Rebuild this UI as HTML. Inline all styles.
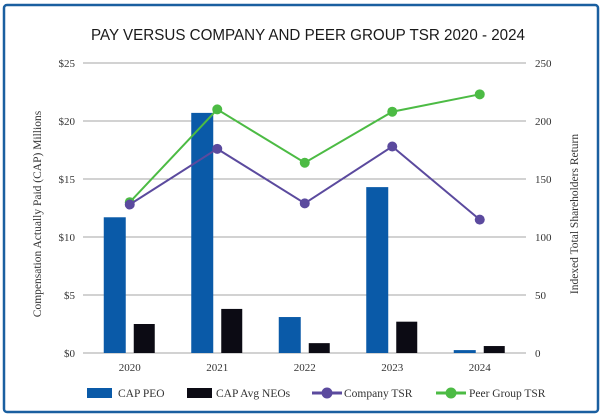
<!DOCTYPE html>
<html><head><meta charset="utf-8"><style>
body{margin:0;background:#fff;}
svg{display:block;font-family:"Liberation Serif",serif;}
</style></head><body>
<svg id="chart" width="603" height="417" viewBox="0 0 603 417">
<rect x="4" y="5" width="594" height="407" rx="3" fill="#fff" stroke="#1a5fa0" stroke-width="2.5"/>
<text x="308" y="40" text-anchor="middle" font-family="Liberation Sans, sans-serif" font-size="16" textLength="434" lengthAdjust="spacingAndGlyphs" fill="#1a1a1a">PAY VERSUS COMPANY AND PEER GROUP TSR 2020 - 2024</text>
<g id="grid"></g><g id="bars"></g><g id="lines"></g><g id="axes"></g>
<text transform="translate(41,214) rotate(-90)" text-anchor="middle" font-size="11.5" fill="#333">Compensation Actually Paid (CAP) Millions</text>
<text transform="translate(578,214) rotate(-90)" text-anchor="middle" font-size="11.5" fill="#333">Indexed Total Shareholders Return</text>
<g>
<rect x="87" y="388" width="25" height="10" fill="#0a5aa8"/>
<text x="118" y="397" font-size="11.5" fill="#333">CAP PEO</text>
<rect x="187" y="388" width="25" height="10" fill="#0c0b14"/>
<text x="216" y="397" font-size="11.5" fill="#333">CAP Avg NEOs</text>
<line x1="312" y1="393" x2="342" y2="393" stroke="#5b4a9e" stroke-width="3"/>
<circle cx="327" cy="393" r="5.5" fill="#5b4a9e"/>
<text x="344" y="397" font-size="11.5" fill="#333">Company TSR</text>
<line x1="436" y1="393" x2="466" y2="393" stroke="#4cbb44" stroke-width="3"/>
<circle cx="451" cy="393" r="5.5" fill="#4cbb44"/>
<text x="469" y="397" font-size="11.5" fill="#333">Peer Group TSR</text>
</g>
</svg>
<script>
const years = ["2020","2021","2022","2023","2024"];
const capPeo = [11.7, 20.7, 3.1, 14.3, 0.25];
const capNeo = [2.5, 3.8, 0.85, 2.7, 0.6];
const companyTsr = [128, 176, 129, 178, 115];
const peerTsr = [130, 210, 164, 208, 223];
const leftTicks = ["$0","$5","$10","$15","$20","$25"];
const rightTicks = ["0","50","100","150","200","250"];
const NS="http://www.w3.org/2000/svg";
const X0=86, X1=523.5, Y0=353, Y1=63;
const band=(X1-X0)/years.length;
const xc=i=>X0+band*(i+0.5);
const yL=v=>Y0-(v/25)*(Y0-Y1);
const yR=v=>Y0-(v/250)*(Y0-Y1);
function mk(tag,attrs,parent){const e=document.createElementNS(NS,tag);for(const k in attrs)e.setAttribute(k,attrs[k]);document.getElementById(parent).appendChild(e);return e;}
leftTicks.forEach((t,i)=>{
  const y=yL(i*5);
  const g=mk('line',{x1:83,x2:526,y1:y,y2:y,stroke:'#a6a6a6','stroke-width':1},'grid');
  
  
  const a=mk('text',{x:75,y:y+4,'text-anchor':'end','font-size':11,fill:'#333'},'axes');a.textContent=t;
  
  
  const b=mk('text',{x:535,y:y+4,'font-size':11,fill:'#333'},'axes');b.textContent=rightTicks[i];
  
  
});
years.forEach((yr,i)=>{
  const c=xc(i);
  const b1=mk('rect',{x:c-26,y:yL(capPeo[i]),width:22,height:Y0-yL(capPeo[i]),fill:'#0a5aa8'},'bars');
  
  
  const b2=mk('rect',{x:c+4,y:yL(capNeo[i]),width:21,height:Y0-yL(capNeo[i]),fill:'#0c0b14'},'bars');
  
  
  const t=mk('text',{x:c,y:371,'text-anchor':'middle','font-size':11,fill:'#333'},'axes');t.textContent=yr;
  
  
});
function series(vals,color,name){
  const pts=vals.map((v,i)=>xc(i)+','+yR(v)).join(' ');
  const p=mk('polyline',{points:pts,fill:'none',stroke:color,'stroke-width':2},'lines');
  
  
  vals.forEach((v,i)=>{
    const c=mk('circle',{cx:xc(i),cy:yR(v),r:5,fill:color},'lines');
    
    
  });
}
series(peerTsr,'#4cbb44','peer-tsr');
series(companyTsr,'#5b4a9e','company-tsr');
</script>
</body></html>
